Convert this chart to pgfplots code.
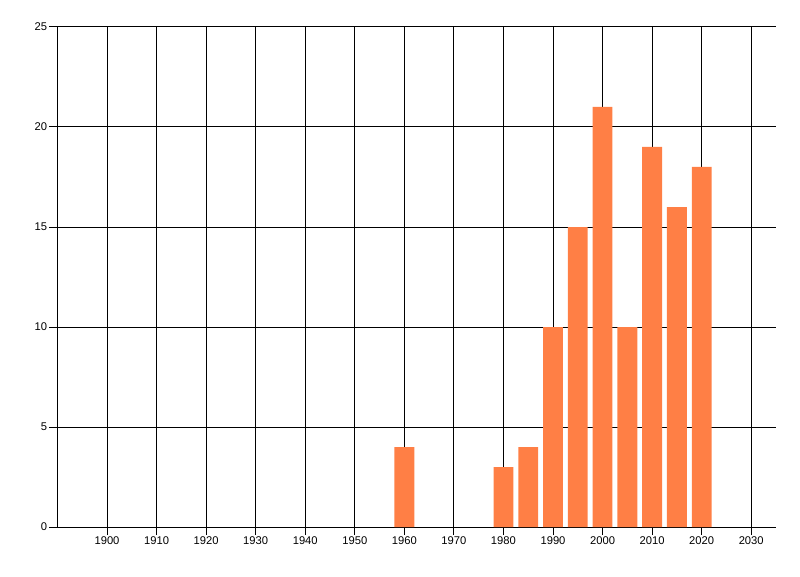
\documentclass[border=0pt]{standalone}
\usepackage{pgfplots}
\pgfplotsset{compat=1.18}
\usepackage{fontspec}
\setmainfont{Liberation Sans}
\definecolor{barorange}{HTML}{FF7F45}
\begin{document}
\begin{tikzpicture}
  \begin{axis}[
    at={(0,0)}, anchor=south west,
    scale only axis,
    width=538.9pt, height=375pt,
    xmin=1890, xmax=2035,
    ymin=0, ymax=25,
    axis x line*=bottom,
    axis y line*=left,
    axis line style={black, line width=0.75pt, -},
    xtick={1900,1910,...,2030},
    ytick={0,5,...,25},
    grid=major,
    major grid style={black, line width=0.75pt},
    tick style={black, line width=0.75pt},
    tick align=outside,
    major tick length=6pt,
    /pgf/number format/1000 sep={},
    /pgf/number format/assume math mode=true,
    tick label style={font=\fontsize{8.4}{10}\selectfont},
    xticklabel style={inner sep=1pt, yshift=0pt},
    yticklabel style={inner sep=1.5pt},
    ybar,
    bar width=4,
  ]
    \addplot[fill=barorange, draw=none] coordinates {
      (1960,4) (1980,3) (1985,4) (1990,10) (1995,15)
      (2000,21) (2005,10) (2010,19) (2015,16) (2020,18)
    };
  \end{axis}
  \path[use as bounding box] (-43.1pt,-36.75pt) rectangle (556.9pt,395.25pt);
\end{tikzpicture}
\end{document}
